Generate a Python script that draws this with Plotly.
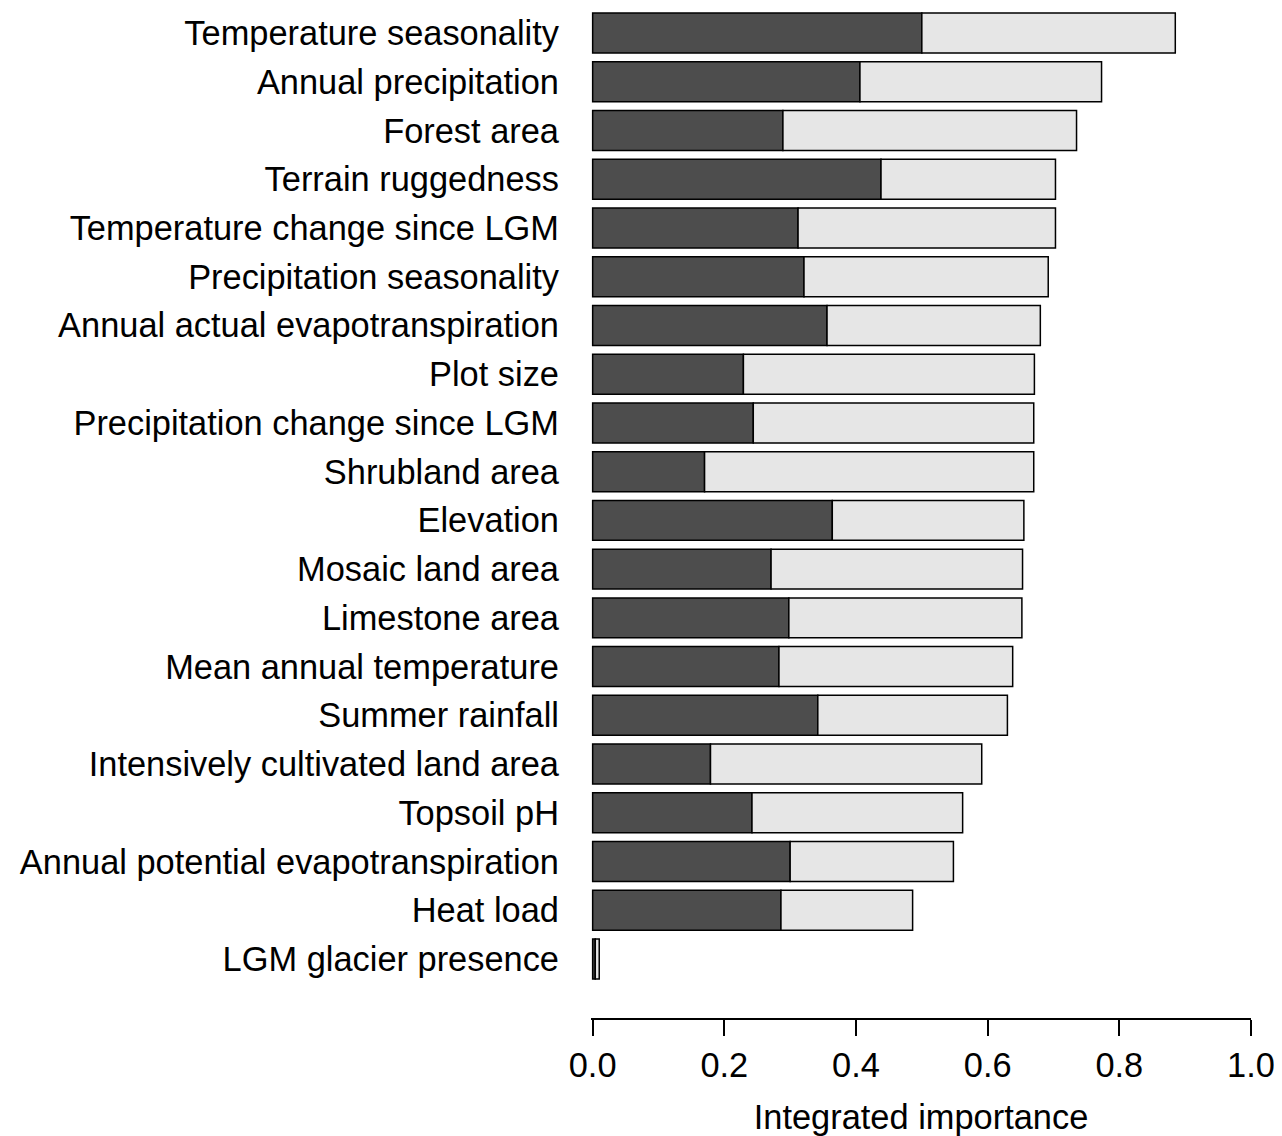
import plotly.graph_objects as go

variables = [
    "Temperature seasonality",
    "Annual precipitation",
    "Forest area",
    "Terrain ruggedness",
    "Temperature change since LGM",
    "Precipitation seasonality",
    "Annual actual evapotranspiration",
    "Plot size",
    "Precipitation change since LGM",
    "Shrubland area",
    "Elevation",
    "Mosaic land area",
    "Limestone area",
    "Mean annual temperature",
    "Summer rainfall",
    "Intensively cultivated land area",
    "Topsoil pH",
    "Annual potential evapotranspiration",
    "Heat load",
    "LGM glacier presence",
]
dark_part = [0.500, 0.406, 0.289, 0.438, 0.312, 0.321, 0.356, 0.229, 0.244, 0.170,
             0.364, 0.271, 0.298, 0.283, 0.342, 0.179, 0.242, 0.300, 0.286, 0.004]
total = [0.885, 0.773, 0.735, 0.703, 0.703, 0.692, 0.680, 0.671, 0.670, 0.670,
         0.655, 0.653, 0.652, 0.638, 0.630, 0.591, 0.562, 0.548, 0.486, 0.010]
light_part = [t - d for t, d in zip(total, dark_part)]
x_ticks = [0.0, 0.2, 0.4, 0.6, 0.8, 1.0]

pos = list(range(len(variables)))
FONT = "Liberation Sans, Arial, Helvetica, sans-serif"
FS = 34.4

fig = go.Figure()
fig.add_trace(go.Bar(
    y=pos, x=dark_part, orientation="h", width=0.82,
    marker=dict(color="#4D4D4D", line=dict(color="black", width=1.5)),
    showlegend=False,
))
fig.add_trace(go.Bar(
    y=pos, x=light_part, base=dark_part, orientation="h", width=0.82,
    marker=dict(color="#E6E6E6", line=dict(color="black", width=1.5)),
    showlegend=False,
))

# page body has an 8px default margin; figure sized to fill the rest
fig.update_layout(
    barmode="overlay",
    width=1274, height=1128,
    margin=dict(l=583, r=31, t=0, b=118),
    plot_bgcolor="white", paper_bgcolor="white",
    font=dict(family=FONT, size=FS, color="black"),
    xaxis=dict(
        range=[-0.0025, 1.0],
        tickvals=x_ticks,
        ticktext=[f"{v:.1f}" for v in x_ticks],
        ticks="outside", ticklen=16, tickwidth=1.5, tickcolor="black",
        showline=True, linecolor="black", linewidth=1.5,
        showgrid=False, zeroline=False,
        tickfont=dict(size=FS),
        title=dict(text="Integrated importance", font=dict(size=FS), standoff=22),
    ),
    yaxis=dict(
        range=[20.21, -0.513],
        tickvals=pos, ticktext=variables,
        ticks="", showline=False, showgrid=False, zeroline=False,
        tickfont=dict(size=FS),
        ticklabelstandoff=31,
    ),
)

fig.write_html("out.html")
